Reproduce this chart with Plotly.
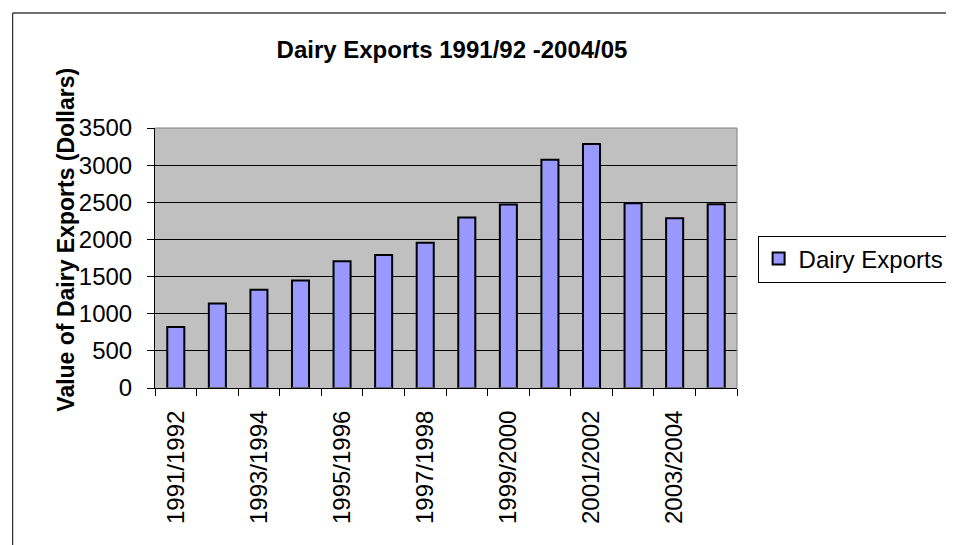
import plotly.graph_objects as go

categories = ["1991/1992", "1992/1993", "1993/1994", "1994/1995", "1995/1996", "1996/1997",
              "1997/1998", "1998/1999", "1999/2000", "2000/2001", "2001/2002", "2002/2003",
              "2003/2004", "2004/2005"]
values = [822, 1136, 1321, 1446, 1706, 1792, 1954, 2295, 2470, 3073, 3283, 2488, 2286, 2475]
label_cats = categories[::2]

W, H = 954, 545
OFF = 8  # page body margin
L, R, T, B = 155 - OFF, 748 - OFF, 128 - OFF, 388 - OFF
FONT = "Arial, Liberation Sans, sans-serif"
FS = 24


def px_x(p):
    return (p - OFF - L) / (R - L)


def px_y(p):
    return (B - (p - OFF)) / (B - T)


fig = go.Figure()
fig.add_trace(go.Bar(
    x=categories, y=values, name="Dairy Exports",
    marker=dict(color="#9999FF", line=dict(color="black", width=2)),
    xaxis="x", yaxis="y",
))
fig.add_trace(go.Bar(x=categories, y=[0] * len(categories), xaxis="x2", yaxis="y",
                     showlegend=False, hoverinfo="skip", marker=dict(color="rgba(0,0,0,0)")))

fig.update_layout(
    width=W, height=H,
    margin=dict(l=L, r=W - R, t=T, b=H - B, pad=0),
    paper_bgcolor="white", plot_bgcolor="#C0C0C0",
    font=dict(family=FONT, size=FS, color="black"),
    bargap=0.59,
    showlegend=True,
    title=dict(text="<b>Dairy Exports 1991/92 -2004/05</b>", font=dict(size=24, family=FONT),
               x=(452 - OFF) / W, xanchor="center", xref="container",
               y=1 - (50 - OFF) / H, yanchor="middle", yref="container"),
    xaxis=dict(type="category", categoryorder="array", categoryarray=categories,
               tickmode="array", tickvals=label_cats, ticktext=label_cats,
               tickangle=-90, ticks="", showgrid=False, showline=True, linecolor="black",
               linewidth=1, tickfont=dict(size=FS), range=[-0.5, 13.5],
               ticklabelstandoff=12),
    xaxis2=dict(type="category", categoryorder="array", categoryarray=categories,
                overlaying="x", side="bottom", tickson="boundaries", ticks="outside",
                ticklen=7, tickcolor="black", showticklabels=False, showgrid=False,
                showline=False, range=[-0.5, 13.5]),
    yaxis=dict(range=[0, 3500], dtick=500, tick0=0, showgrid=True, gridcolor="black",
               gridwidth=1, ticks="outside", ticklen=7, tickcolor="black",
               showline=True, linecolor="black", linewidth=1, zeroline=False,
               tickfont=dict(size=FS), ticklabelstandoff=10),
    legend=dict(x=px_x(769), y=px_y(259), xanchor="left", yanchor="middle",
                bordercolor="black", borderwidth=1, bgcolor="white",
                font=dict(size=FS), itemsizing="constant"),
    annotations=[dict(text="<b>Value of Dairy Exports (Dollars)</b>", textangle=-90,
                      x=px_x(64), y=px_y(240), xref="paper", yref="paper",
                      showarrow=False, font=dict(size=23), xanchor="center", yanchor="middle")],
    shapes=[
        dict(type="line", xref="paper", yref="paper", x0=0, x1=1, y0=1, y1=1,
             line=dict(color="#808080", width=1), layer="above"),
        dict(type="line", xref="paper", yref="paper", x0=1, x1=1, y0=0, y1=1,
             line=dict(color="#808080", width=1), layer="above"),
        dict(type="line", xref="paper", yref="paper", x0=px_x(10), x1=px_x(970),
             y0=px_y(13), y1=px_y(13), line=dict(color="#707070", width=2), layer="above"),
        dict(type="line", xref="paper", yref="paper", x0=px_x(10), x1=px_x(10),
             y0=px_y(13), y1=px_y(570), line=dict(color="black", width=1), layer="above"),
    ],
)
fig.write_html("out.html")
